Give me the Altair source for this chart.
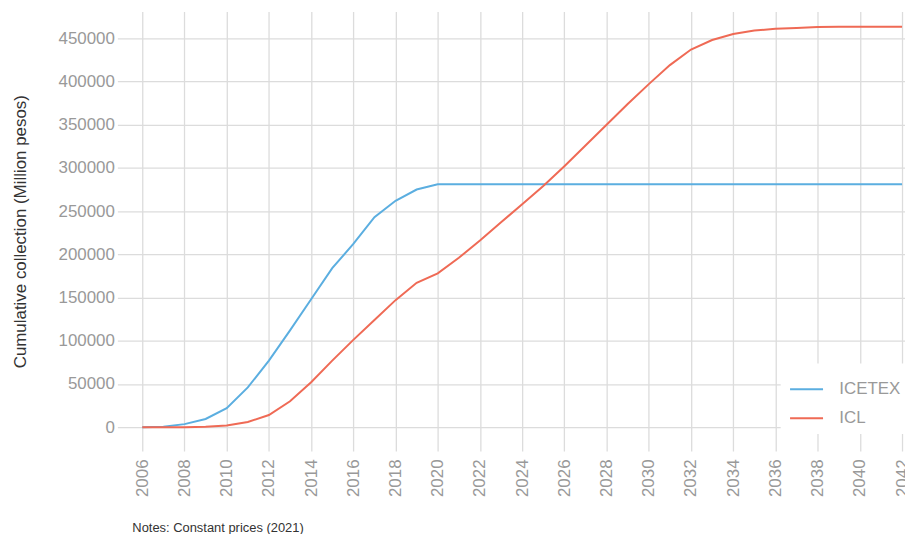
import altair as alt
import pandas as pd

years = list(range(2006, 2043))

icetex = [0, 500, 3500, 9500, 22000, 46000, 77000, 112000, 148000, 184000,
          212000, 243000, 262000, 275000, 281000, 281000, 281000, 281000, 281000, 281000,
          281000, 281000, 281000, 281000, 281000, 281000, 281000, 281000, 281000, 281000,
          281000, 281000, 281000, 281000, 281000, 281000, 281000]

icl = [0, 0, 0, 500, 2000, 6000, 14000, 30000, 52000, 77000,
       101000, 124000, 147000, 167000, 178000, 196000, 216000, 237000, 258000, 279000,
       302000, 326000, 350000, 374000, 397000, 419000, 437000, 448000, 455000, 459000,
       461000, 462000, 463000, 463500, 463500, 463500, 463500]

series_names = ["ICETEX", "ICL"]
series_colors = ["#5BAEE0", "#EF6A55"]

x_ticks = list(range(2006, 2043, 2))
y_ticks = list(range(0, 450001, 50000))

df = pd.DataFrame({
    "year": years * 2,
    "value": icetex + icl,
    "series": ["ICETEX"] * len(years) + ["ICL"] * len(years),
})

FONT = "Liberation Sans"

chart = alt.Chart(df).mark_line(strokeWidth=2).encode(
    x=alt.X("year:Q",
            scale=alt.Scale(domain=[2004.82, 2042.14], nice=False, zero=False),
            axis=alt.Axis(values=x_ticks, format="d", labelAngle=270, title=None,
                          ticks=False, domain=False, labelPadding=8,
                          labelFontSize=17, labelColor="#999999", labelFont=FONT,
                          gridColor="#dcdcdc", gridWidth=1.3)),
    y=alt.Y("value:Q",
            scale=alt.Scale(domain=[-27600, 481100], nice=False, zero=False),
            axis=alt.Axis(values=y_ticks, format="d",
                          title="Cumulative collection (Million pesos)",
                          titleFontSize=17, titleFont=FONT, titleFontWeight="normal",
                          titleColor="#333333", titlePadding=29,
                          ticks=False, domain=False, labelPadding=3,
                          labelFontSize=17, labelColor="#999999", labelFont=FONT,
                          gridColor="#dcdcdc", gridWidth=1.3)),
    color=alt.Color("series:N",
                    scale=alt.Scale(domain=series_names, range=series_colors),
                    legend=alt.Legend(title=None, orient="none", legendX=667, legendY=354,
                                      fillColor="white", padding=8,
                                      symbolType="stroke", symbolSize=1100,
                                      symbolStrokeWidth=2, labelOffset=15,
                                      labelFontSize=17, labelColor="#999999",
                                      labelFont=FONT, rowPadding=3)),
).properties(
    width=792,
    height=442,
    autosize=alt.AutoSizeParams(type="none"),
    padding={"left": 110, "top": 2, "right": 0, "bottom": 82},
    title=alt.TitleParams(text="Notes: Constant prices (2021)", orient="bottom",
                          anchor="start", frame="group", dx=15, offset=26,
                          fontSize=13, fontWeight="normal", color="#333333", font=FONT),
).configure_view(stroke=None)

chart.save("out.html", embed_options={"renderer": "svg", "actions": False})
